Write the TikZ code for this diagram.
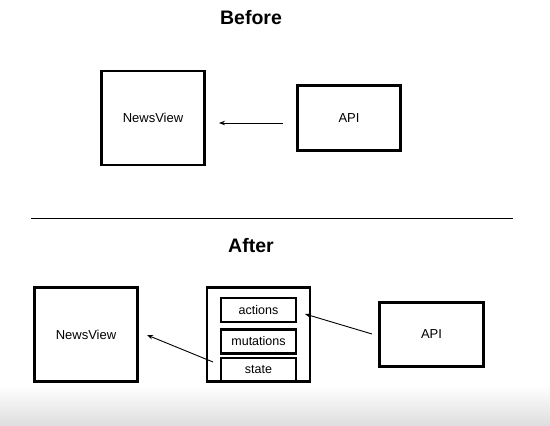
\documentclass[tikz,border=0pt]{standalone}
\usepackage{fontspec}
\setmainfont{Liberation Sans}
\usetikzlibrary{arrows.meta}
\begin{document}
\begin{tikzpicture}[x=1pt,y=-1pt,
  box/.style={draw,line width=2.6pt,fill=white,font=\fontsize{13}{15}\selectfont},
  inner/.style={draw,line width=2.4pt,fill=white,minimum width=75pt,font=\fontsize{12.5}{14}\selectfont,inner sep=0pt},
  title/.style={font=\fontsize{19.5}{22}\selectfont\bfseries},
  conn/.style={line width=0.9pt,-{Stealth[length=6pt,width=4.5pt]}}]
\useasboundingbox (0,0) rectangle (550,426);
\shade[top color=white,bottom color=black!13] (0,385) rectangle (550,426);
% Before
\node[title] (before) at (251,18) {Before};
\node[box,minimum width=103pt,minimum height=94pt] (nv1) at (153,118) {NewsView};
\node[box,minimum width=103pt,minimum height=65pt] (api1) at (349,118) {API};
\coordinate (a1s) at (283,123);
\coordinate (a1e) at (219,123);
\draw[conn] (a1s) -- (a1e);
% divider
\coordinate (dl) at (31,218);
\coordinate (dr) at (513,218);
\draw[line width=0.9pt] (dl) -- (dr);
% After
\node[title] (after) at (251,246) {After};
\node[box,minimum width=103pt,minimum height=94pt] (nv2) at (86,334.5) {NewsView};
\node[box,minimum width=103pt,minimum height=94pt] (store) at (258.5,334.5) {};
\node[inner,minimum height=24pt] (act) at (258.5,310) {actions};
\node[inner,minimum height=24pt] (mut) at (258.5,341.5) {mutations};
\node[inner,minimum height=23pt] (st) at (258.5,369.5) {state};
\node[box,minimum width=104pt,minimum height=64pt] (api2) at (431.5,334.5) {API};
\coordinate (a2s) at (372,334);
\coordinate (a2e) at (305,314);
\draw[conn] (a2s) -- (a2e);
\coordinate (a3s) at (213,362);
\coordinate (a3e) at (147,335);
\draw[conn] (a3s) -- (a3e);
\end{tikzpicture}
\end{document}
